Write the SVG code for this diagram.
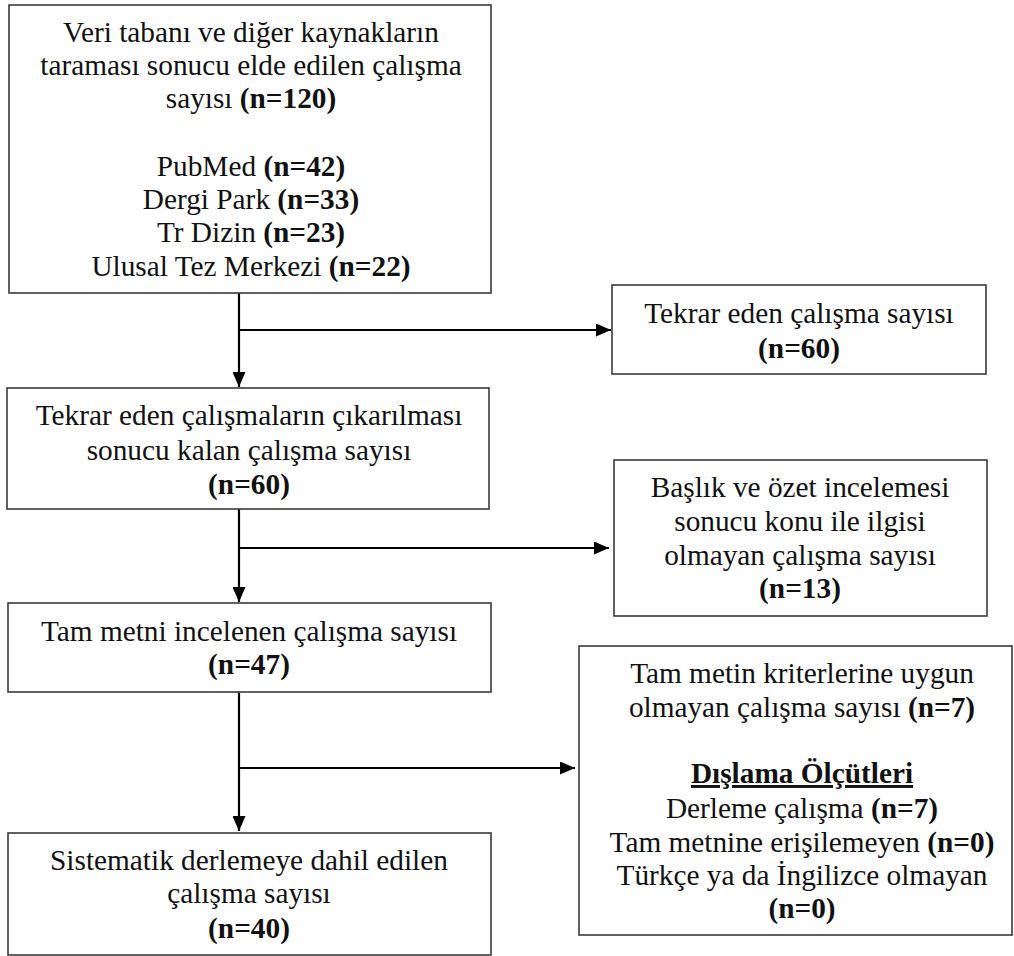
<svg xmlns="http://www.w3.org/2000/svg" width="1014" height="956" viewBox="0 0 1014 956">
<style>
.box{fill:#fff;stroke:#3a3a3a;stroke-width:1.6}
.t{font-family:"Liberation Serif","Times New Roman",serif;font-size:29.3px;fill:#111;text-anchor:middle}
.b{font-weight:bold}
.c{stroke:#000;stroke-width:2.2;fill:none}
</style>
<defs>
<marker id="ah" viewBox="0 0 15 13" refX="15" refY="6.5" markerWidth="15" markerHeight="13" markerUnits="userSpaceOnUse" orient="auto">
<path d="M0,0 L15,6.5 L0,13 z" fill="#000"/>
</marker>
</defs>
<rect width="1014" height="956" fill="#fff"/>
<g id="connectors">
<line class="c" x1="239" y1="293" x2="239" y2="387" marker-end="url(#ah)"/>
<line class="c" x1="239" y1="330" x2="611" y2="330" marker-end="url(#ah)"/>
<line class="c" x1="239" y1="509" x2="239" y2="602" marker-end="url(#ah)"/>
<line class="c" x1="239" y1="548" x2="609" y2="548" marker-end="url(#ah)"/>
<line class="c" x1="239" y1="692" x2="239" y2="831" marker-end="url(#ah)"/>
<line class="c" x1="239" y1="768" x2="575" y2="768" marker-end="url(#ah)"/>
</g>
<g id="n1">
<rect class="box" x="9" y="5" width="482" height="288"/>
<text class="t" x="251" y="42">Veri tabanı ve diğer kaynakların</text>
<text class="t" x="251" y="75">taraması sonucu elde edilen çalışma</text>
<text class="t" x="251" y="108">sayısı <tspan class="b">(n=120)</tspan></text>
<text class="t" x="251" y="176">PubMed <tspan class="b">(n=42)</tspan></text>
<text class="t" x="251" y="209">Dergi Park <tspan class="b">(n=33)</tspan></text>
<text class="t" x="251" y="242">Tr Dizin <tspan class="b">(n=23)</tspan></text>
<text class="t" x="251" y="276">Ulusal Tez Merkezi <tspan class="b">(n=22)</tspan></text>
</g>
<g id="n2">
<rect class="box" x="612" y="285" width="374" height="89"/>
<text class="t" x="799" y="323">Tekrar eden çalışma sayısı</text>
<text class="t b" x="799" y="358">(n=60)</text>
</g>
<g id="n3">
<rect class="box" x="7" y="388" width="482" height="121"/>
<text class="t" x="249" y="425">Tekrar eden çalışmaların çıkarılması</text>
<text class="t" x="249" y="460">sonucu kalan çalışma sayısı</text>
<text class="t b" x="249" y="494">(n=60)</text>
</g>
<g id="n4">
<rect class="box" x="614" y="460" width="373" height="156"/>
<text class="t" x="800" y="497">Başlık ve özet incelemesi</text>
<text class="t" x="800" y="531">sonucu konu ile ilgisi</text>
<text class="t" x="800" y="565">olmayan çalışma sayısı</text>
<text class="t b" x="800" y="598">(n=13)</text>
</g>
<g id="n5">
<rect class="box" x="8" y="603" width="483" height="89"/>
<text class="t" x="249" y="641">Tam metni incelenen çalışma sayısı</text>
<text class="t b" x="249" y="674">(n=47)</text>
</g>
<g id="n6">
<rect class="box" x="579" y="646" width="433" height="289"/>
<text class="t" x="802" y="683">Tam metin kriterlerine uygun</text>
<text class="t" x="802" y="717">olmayan çalışma sayısı <tspan class="b">(n=7)</tspan></text>
<text class="t b" x="802" y="783" text-decoration="underline">Dışlama Ölçütleri</text>
<text class="t" x="802" y="818">Derleme çalışma <tspan class="b">(n=7)</tspan></text>
<text class="t" x="802" y="852">Tam metnine erişilemeyen <tspan class="b">(n=0)</tspan></text>
<text class="t" x="802" y="885">Türkçe ya da İngilizce olmayan</text>
<text class="t b" x="802" y="918">(n=0)</text>
</g>
<g id="n7">
<rect class="box" x="8" y="833" width="483" height="122"/>
<text class="t" x="249" y="870">Sistematik derlemeye dahil edilen</text>
<text class="t" x="249" y="903">çalışma sayısı</text>
<text class="t b" x="249" y="938">(n=40)</text>
</g>
</svg>
